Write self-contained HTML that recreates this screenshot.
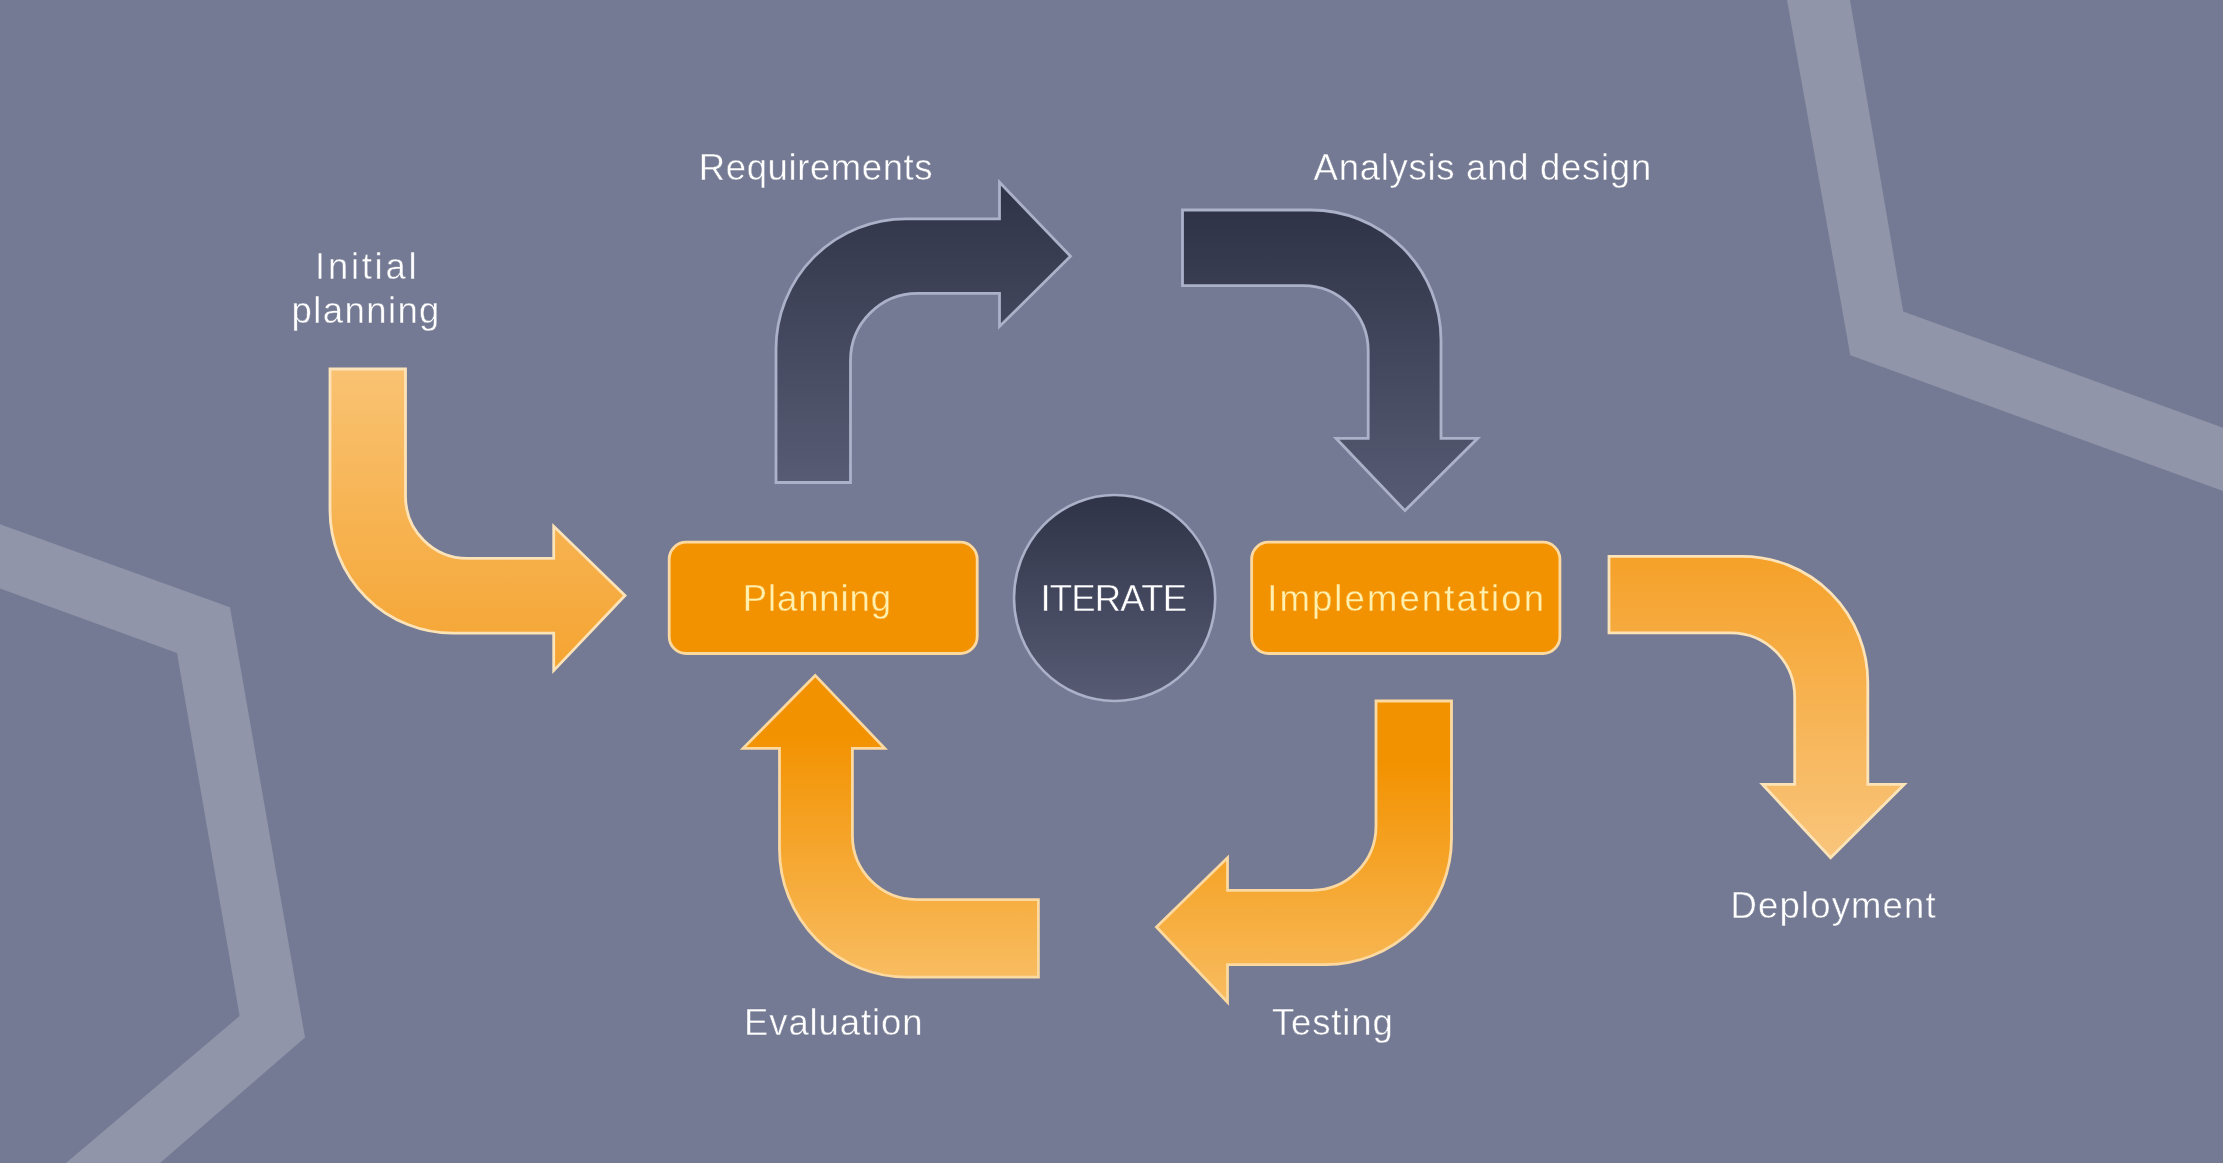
<!DOCTYPE html>
<html lang="en"><head><meta charset="utf-8"><title>Iterative process</title>
<style>
html,body{margin:0;padding:0;background:#747a93;}
body{width:2223px;height:1163px;overflow:hidden;}
svg{display:block;will-change:transform;}
text{font-family:"Liberation Sans",sans-serif;font-weight:400;}
</style></head><body>
<svg width="2223" height="1163" viewBox="0 0 2223 1163">
<defs>
<linearGradient id="g1" gradientUnits="userSpaceOnUse" x1="0" y1="369" x2="0" y2="671"><stop offset="0" stop-color="#f9c272"/><stop offset="1" stop-color="#f5a431"/></linearGradient>
<linearGradient id="g4" gradientUnits="userSpaceOnUse" x1="0" y1="556" x2="0" y2="858"><stop offset="0" stop-color="#f5a129"/><stop offset="1" stop-color="#f9c57c"/></linearGradient>
<linearGradient id="g5" gradientUnits="userSpaceOnUse" x1="0" y1="701" x2="0" y2="1002"><stop offset="0" stop-color="#f39200"/><stop offset="0.2" stop-color="#f39200"/><stop offset="1" stop-color="#f8bc60"/></linearGradient>
<linearGradient id="g6" gradientUnits="userSpaceOnUse" x1="0" y1="674" x2="0" y2="977"><stop offset="0" stop-color="#f39200"/><stop offset="0.2" stop-color="#f39200"/><stop offset="1" stop-color="#f8bc60"/></linearGradient>
<linearGradient id="gd1" gradientUnits="userSpaceOnUse" x1="0" y1="181" x2="0" y2="483"><stop offset="0" stop-color="#2f3347"/><stop offset="1" stop-color="#575c74"/></linearGradient>
<linearGradient id="gd2" gradientUnits="userSpaceOnUse" x1="0" y1="210" x2="0" y2="511"><stop offset="0" stop-color="#2f3347"/><stop offset="1" stop-color="#575c74"/></linearGradient>
<linearGradient id="gc" gradientUnits="userSpaceOnUse" x1="0" y1="494" x2="0" y2="702"><stop offset="0" stop-color="#2f3347"/><stop offset="1" stop-color="#575c74"/></linearGradient>
</defs>
<rect width="2223" height="1163" fill="#747a93"/>
<polygon fill="#9095aa" points="1787,0 1850,0 1903.2,311.5 2223,427.8 2223,491 1850.3,355.3"/>
<polygon fill="#9095aa" points="0,524.2 230,607.3 305,1037.5 160,1163 66,1163 239.6,1016 177,653 0,588.6"/>
<path d="M330,369 L330,510.2 A123,123 0 0 0 453,633.2 L553.7,633.2 L553.7,670.6 L625,595.5 L553.7,526.2 L553.7,558.4 L467.5,558.4 A62,62 0 0 1 405.5,496.4 L405.5,369 Z" fill="url(#g1)" stroke="#fde3b8" stroke-width="2.8" stroke-linejoin="miter"/>
<path d="M776,482.5 L776,348.8 A130,130 0 0 1 906,218.8 L999.5,218.8 L999.5,182.2 L1070.5,256.2 L999.5,326.5 L999.5,293.4 L917.5,293.4 A67,67 0 0 0 850.5,360.4 L850.5,482.5 Z" fill="url(#gd1)" stroke="#abb1c9" stroke-width="2.8" stroke-linejoin="miter"/>
<path d="M1182.5,210 L1311,210 A130,130 0 0 1 1441,340 L1441,438.3 L1477.7,438.3 L1405,510.6 L1336,438.3 L1368.2,438.3 L1368.2,350.7 A65,65 0 0 0 1303.2,285.7 L1182.5,285.7 Z" fill="url(#gd2)" stroke="#abb1c9" stroke-width="2.8" stroke-linejoin="miter"/>
<path d="M1609,556.3 L1741.8,556.3 A126,126 0 0 1 1867.8,682.3 L1867.8,784.3 L1904.3,784.3 L1830.6,857.7 L1762.4,784.3 L1794.7,784.3 L1794.7,696.8 A64,64 0 0 0 1730.7,632.8 L1609,632.8 Z" fill="url(#g4)" stroke="#fde3b8" stroke-width="2.8" stroke-linejoin="miter"/>
<path d="M1451.5,701 L1451.5,838.6 A126,126 0 0 1 1325.5,964.6 L1227.5,964.6 L1227.5,1002.2 L1156.5,927 L1227.5,857.7 L1227.5,890.3 L1312,890.3 A64,64 0 0 0 1376,826.3 L1376,701 Z" fill="url(#g5)" stroke="#fcd9a0" stroke-width="2.8" stroke-linejoin="miter"/>
<path d="M1038.4,977.2 L907.5,977.2 A128,128 0 0 1 779.5,849.2 L779.5,748.3 L743.1,748.3 L815.2,675.4 L884.7,748.3 L852.4,748.3 L852.4,835.6 A64,64 0 0 0 916.4,899.6 L1038.4,899.6 Z" fill="url(#g6)" stroke="#fcd9a0" stroke-width="2.8" stroke-linejoin="miter"/>
<rect x="669.2" y="542.2" width="308" height="111.3" rx="17" ry="17" fill="#f39200" stroke="#fcd9a0" stroke-width="2.8"/>
<rect x="1251.6" y="542.2" width="308.3" height="111.3" rx="17" ry="17" fill="#f39200" stroke="#fcd9a0" stroke-width="2.8"/>
<ellipse cx="1114.6" cy="598" rx="100.6" ry="103" fill="url(#gc)" stroke="#abb1c9" stroke-width="2.6"/>
<text id="t1" x="315" y="278.5" font-size="36.5" fill="#fff" stroke="#747a93" stroke-width="0.45" textLength="101.6" lengthAdjust="spacing">Initial</text>
<text id="t2" x="291.6" y="323.4" font-size="36.5" fill="#fff" stroke="#747a93" stroke-width="0.45" textLength="147.8" lengthAdjust="spacing">planning</text>
<text id="t3" x="698.8" y="179.8" font-size="36.5" fill="#fff" stroke="#747a93" stroke-width="0.45" textLength="233.8" lengthAdjust="spacing">Requirements</text>
<text id="t4" x="1313.6" y="179.6" font-size="36.5" fill="#fff" stroke="#747a93" stroke-width="0.45" textLength="337.6" lengthAdjust="spacing">Analysis and design</text>
<text id="t5" x="742.8" y="611" font-size="36.5" fill="#fff0ad" stroke="#f39200" stroke-width="0.35" textLength="148.2" lengthAdjust="spacing">Planning</text>
<text id="t6" x="1040.4" y="610.6" font-size="36.5" fill="#fff" stroke="#43475f" stroke-width="0.45" textLength="146.6" lengthAdjust="spacing">ITERATE</text>
<text id="t7" x="1267.2" y="611" font-size="36.5" fill="#fff0ad" stroke="#f39200" stroke-width="0.35" textLength="276.8" lengthAdjust="spacing">Implementation</text>
<text id="t8" x="1730.6" y="917.9" font-size="36.5" fill="#fff" stroke="#747a93" stroke-width="0.45" textLength="205" lengthAdjust="spacing">Deployment</text>
<text id="t9" x="744" y="1035" font-size="36.5" fill="#fff" stroke="#747a93" stroke-width="0.45" textLength="178.6" lengthAdjust="spacing">Evaluation</text>
<text id="t10" x="1272" y="1035" font-size="36.5" fill="#fff" stroke="#747a93" stroke-width="0.45" textLength="120.8" lengthAdjust="spacing">Testing</text>
</svg>
</body></html>
